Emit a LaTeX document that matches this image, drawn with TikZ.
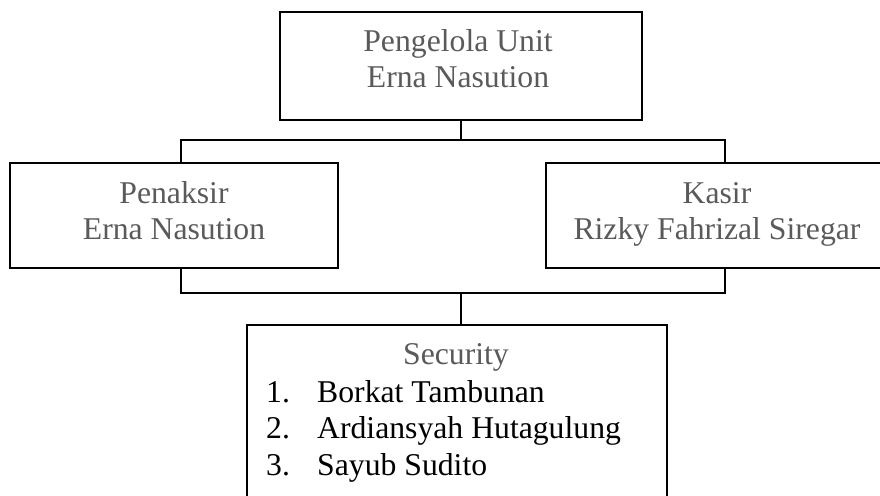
\documentclass[tikz,border=0pt]{standalone}
\usepackage{fontspec}
\setmainfont{Liberation Serif}
\definecolor{txtgray}{HTML}{5A5A5A}
\tikzset{
  box/.style={draw=black, line width=1.3pt, inner sep=0pt, outer sep=0pt, fill=none},
  wire/.style={draw=black, line width=1.1pt},
  lbl/.style={anchor=base, inner sep=0pt, text=txtgray, font=\fontsize{31.7}{35}\selectfont},
  item/.style={anchor=base west, inner sep=0pt, text=black, font=\fontsize{31.7}{35}\selectfont}
}
\begin{document}
\begin{tikzpicture}[x=1pt,y=-1pt]
\useasboundingbox (0,0) rectangle (880,495);
\clip (0,0) rectangle (880,495);
% boxes
\node[box, minimum width=362pt, minimum height=108pt] (top) at (461,66) {};
\node[box, minimum width=328pt, minimum height=105pt] (pen) at (174,215.5) {};
\node[box, minimum width=354pt, minimum height=105pt] (kas) at (723,215.5) {};
\node[box, minimum width=420pt, minimum height=200pt] (sec) at (457,425) {};
% connector helpers
\coordinate (j1) at (461,140);
\coordinate (j2) at (461,293);
\coordinate (cL) at (181,140);
\coordinate (cR) at (725,140);
\coordinate (bL) at (181,293);
\coordinate (bR) at (725,293);
\draw[wire] (top.south -| j1) -- (j1);
\draw[wire] (cL |- pen.north) -- (cL) -- (cR) -- (cR |- kas.north);
\draw[wire] (bL |- pen.south) -- (bL) -- (bR) -- (bR |- kas.south);
\draw[wire] (j2) -- (j2 |- sec.north);
% texts
\node[lbl] (t1) at (458,52) {Pengelola Unit};
\node[lbl] (t2) at (458,87) {Erna Nasution};
\node[lbl] (p1) at (174,203) {Penaksir};
\node[lbl] (p2) at (174,239) {Erna Nasution};
\node[lbl] (k1) at (717,203) {Kasir};
\node[lbl] (k2) at (717,239) {Rizky Fahrizal Siregar};
\node[lbl] (s0) at (456,364) {Security};
\node[item] (n1) at (266,402) {1.};
\node[item] (n2) at (266,438) {2.};
\node[item] (n3) at (266,475) {3.};
\node[item] (m1) at (317,402) {Borkat Tambunan};
\node[item] (m2) at (317,438) {Ardiansyah Hutagulung};
\node[item] (m3) at (317,475) {Sayub Sudito};
\end{tikzpicture}
\end{document}
